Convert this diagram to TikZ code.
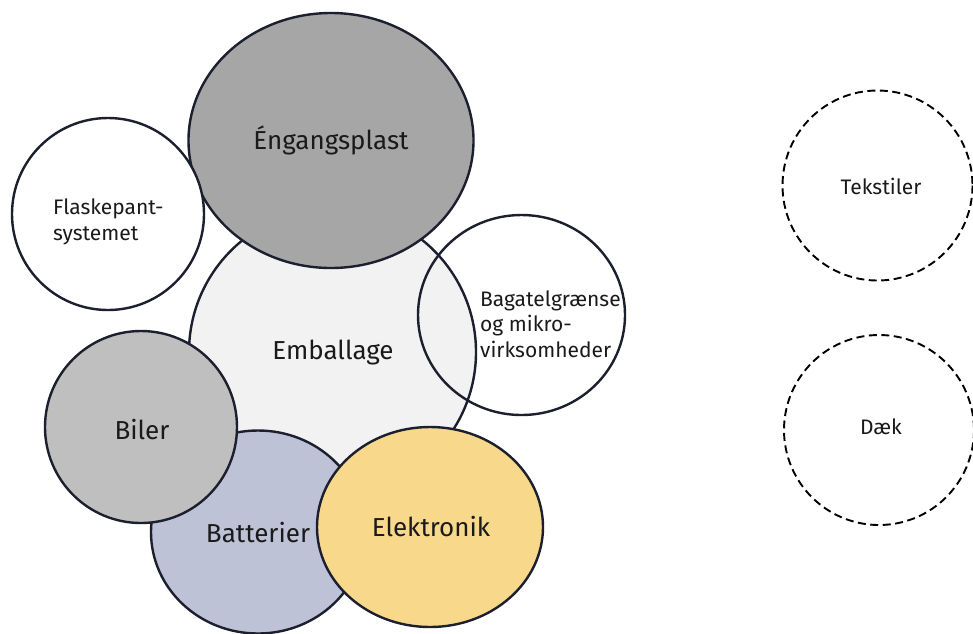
\documentclass[tikz,border=0pt]{standalone}
\usepackage{fontspec}
\setmainfont{Fira Sans}
\definecolor{edge}{HTML}{1B1F2E}
\definecolor{txt}{HTML}{1A1A1A}
\definecolor{engf}{HTML}{A6A6A6}
\definecolor{embf}{HTML}{F2F2F2}
\definecolor{bilf}{HTML}{BFBFBF}
\definecolor{batf}{HTML}{BDC2D7}
\definecolor{elef}{HTML}{F8D88A}
\begin{document}
\begin{tikzpicture}[x=1pt,y=-1pt,
  blob/.style={draw=edge,line width=2.4pt},
  dashblob/.style={draw=black,line width=1.9pt,dash pattern=on 8pt off 4.5pt},
  big/.style={font=\fontsize{26}{30}\selectfont,text=txt},
  small/.style={font=\fontsize{21}{25.5}\selectfont,text=txt,align=left,inner sep=0pt},
  tiny/.style={font=\fontsize{21}{24}\selectfont,text=txt}]
\useasboundingbox (0,0) rectangle (973,633);
% Emballage
\draw[blob,fill=embf] (332.5,352) circle[radius=143.5];
% Engangsplast
\draw[blob,fill=engf] (331,140.5) ellipse[x radius=142.5,y radius=127.5];
% Flaskepant
\draw[blob,fill=white] (108,214) circle[radius=96];
% Bagatelgraense (no fill)
\draw[blob] (521.5,315) ellipse[x radius=103.5,y radius=100];
% Batterier
\draw[blob,fill=batf] (258,532) ellipse[x radius=107,y radius=101.5];
% Biler
\draw[blob,fill=bilf] (141,427) circle[radius=96];
% Elektronik
\draw[blob,fill=elef] (430,527) ellipse[x radius=113,y radius=100];
% dashed
\draw[dashblob] (877.5,185.5) circle[radius=95];
\draw[dashblob] (879,430) circle[radius=95];
% texts
\node[big] (eng) at (331,140) {Éngangsplast};
\node[big] (emb) at (333,353) {Emballage};
\node[small,anchor=west] (fla) at (53,222) {Flaskepant-\\systemet};
\node[small,anchor=west] (bag) at (480,324) {Bagatelgrænse\\og mikro-\\virksomheder};
\node[big] (bil) at (142,430) {Biler};
\node[big] (bat) at (258,533) {Batterier};
\node[big] (ele) at (431,527) {Elektronik};
\node[tiny] (tek) at (881,186) {Tekstiler};
\node[tiny] (dak) at (881,427) {Dæk};
\end{tikzpicture}
\end{document}
